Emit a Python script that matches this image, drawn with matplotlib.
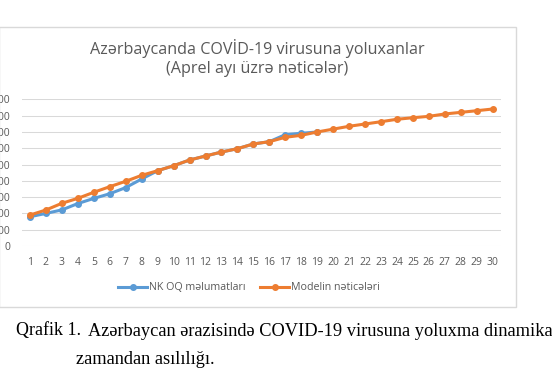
import matplotlib.pyplot as plt
from matplotlib.patches import Rectangle
import numpy as np

# days of April
days = list(range(1, 31))

# official data (NK OQ)
nkoq_days = list(range(1, 20))
nkoq_values = [359, 400, 443, 521, 584, 641, 717, 822, 924, 985,
               1055, 1104, 1153, 1194, 1252, 1280, 1366, 1383, 1399]

# model results
model_values = [380, 442, 524, 585, 659, 728, 794, 867, 924, 985,
                1055, 1104, 1153, 1194, 1252, 1280, 1334, 1358, 1399, 1434,
                1469, 1497, 1525, 1555, 1574, 1591, 1620, 1640, 1660, 1681]

y_ticks = list(range(0, 2000, 200))

title_text = 'Azərbaycanda COVİD-19 virusuna yoluxanlar\n(Aprel ayı üzrə nəticələr)'
legend_labels = ['NK OQ məlumatları', 'Modelin nəticələri']
caption_num = 'Qrafik 1.'
caption_1 = 'Azərbaycan ərazisində COVID-19 virusuna yoluxma dinamika'
caption_2 = 'zamandan asılılığı.'

W, H = 552, 386
fam = ['Open Sans', 'DejaVu Sans']
grey = '#595959'
blue = '#5B9BD5'
orange = '#ED7D31'

fig = plt.figure(figsize=(W / 100, H / 100), dpi=100)

def fx(px):
    return px / W

def fy(py):
    return 1 - py / H

# chart frame
fig.patches.append(Rectangle((fx(-1), fy(307)), fx(516.7), fy(27.3) - fy(307),
                             transform=fig.transFigure, fill=False,
                             edgecolor='#d9d9d9', linewidth=1.0))

ax = fig.add_axes([fx(22), fy(246), fx(500.7 - 22), fy(99.3) - fy(246)])

ax.plot(nkoq_days, nkoq_values, '-o', color=blue, linewidth=2.2,
        markersize=4, label=legend_labels[0])
ax.plot(days, model_values, '-o', color=orange, linewidth=2.2,
        markersize=4, label=legend_labels[1])

ax.set_xlim(0.5, 30.5)
ax.set_ylim(0, 1800)
ax.set_xticks(days)
ax.set_xticklabels([str(d) for d in days], family=fam)
ax.set_yticks(y_ticks)
ax.set_yticklabels([str(v) for v in y_ticks], family=fam)
ax.tick_params(axis='both', length=0, labelsize=7.5, labelcolor=grey)
ax.tick_params(axis='y', pad=8.6)
ax.tick_params(axis='x', pad=8)
ax.grid(axis='y', color='#d9d9d9', linewidth=0.75)
ax.set_axisbelow(True)
for s in ax.spines.values():
    s.set_visible(False)

fig.text(fx(257.5), fy(58), title_text, ha='center', va='center',
         fontsize=11.6, color=grey, family=fam, linespacing=1.2)

ax.legend(loc='center', bbox_to_anchor=(fx(249), fy(288)),
          bbox_transform=fig.transFigure, ncol=2, frameon=False,
          prop={'family': fam, 'size': 7.7},
          handlelength=2.7, handletextpad=0.15, columnspacing=1.4,
          labelcolor=grey)

serif = ['Liberation Serif', 'DejaVu Serif']
fig.text(fx(16), fy(331), caption_num, ha='left', va='center',
         fontsize=13, family=serif)
fig.text(fx(88), fy(331), caption_1, ha='left', va='center',
         fontsize=13.2, family=serif)
fig.text(fx(76), fy(360), caption_2, ha='left', va='center',
         fontsize=13.2, family=serif)

fig.savefig('out.png', dpi=100)
